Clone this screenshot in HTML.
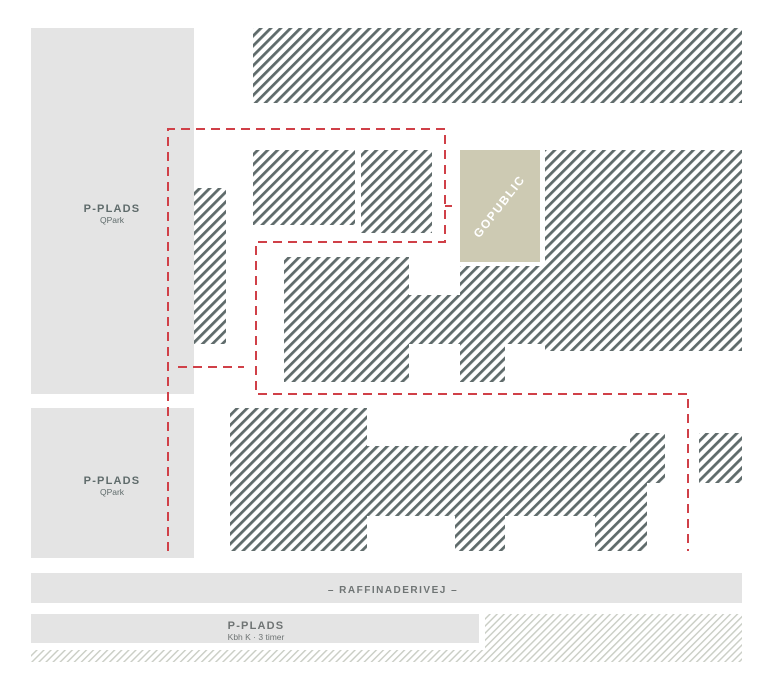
<!DOCTYPE html>
<html><head><meta charset="utf-8"><style>
html,body{margin:0;padding:0;background:#fff;}
svg{display:block;}
text{font-family:"Liberation Sans",sans-serif;font-weight:bold;}
</style></head><body>
<svg width="768" height="683" viewBox="0 0 768 683" xmlns="http://www.w3.org/2000/svg">
<defs>
<pattern id="h" patternUnits="userSpaceOnUse" width="7" height="7" patternTransform="rotate(45)">
<rect width="7" height="7" fill="#fff"/><rect x="0" y="0" width="2.8" height="7" fill="#5f6b6b"/>
</pattern>
<pattern id="l" patternUnits="userSpaceOnUse" width="5" height="5" patternTransform="rotate(45)">
<rect width="5" height="5" fill="#fff"/><rect x="0" y="0" width="1.4" height="5" fill="#c9cdc4"/>
</pattern>
</defs>
<g fill="#e4e4e4">
<rect x="31" y="28" width="163" height="366"/>
<rect x="31" y="408" width="163" height="150"/>
<rect x="31" y="573" width="711" height="30"/>
<rect x="31" y="614" width="448" height="29"/>
</g>
<g fill="url(#l)">
<rect x="485" y="614" width="257" height="48"/>
<rect x="31" y="650" width="454" height="12"/>
</g>
<g fill="url(#h)">
<rect x="253" y="28" width="489" height="75"/>
<rect x="253" y="150" width="102" height="75"/>
<rect x="361" y="150" width="71" height="83"/>
<rect x="194" y="188" width="32" height="156"/>
<rect x="545" y="150" width="197" height="201"/>
<rect x="284" y="257" width="125" height="125"/>
<rect x="409" y="295" width="136" height="49"/>
<rect x="460" y="266" width="85" height="62"/>
<rect x="460" y="328" width="45" height="54"/>
<rect x="230" y="408" width="137" height="143"/>
<rect x="367" y="446" width="298" height="37"/>
<rect x="367" y="483" width="280" height="33"/>
<rect x="595" y="516" width="52" height="35"/>
<rect x="455" y="516" width="50" height="35"/>
<rect x="630" y="433" width="35" height="13"/>
<rect x="699" y="433" width="43" height="50"/>
</g>
<rect x="460" y="150" width="80" height="112" fill="#cdcab3"/>
<text transform="translate(500,207) rotate(-52)" text-anchor="middle" font-size="12" fill="#fff" letter-spacing="1.5" dominant-baseline="middle">GOPUBLIC</text>
<g fill="none" stroke="#d04048" stroke-width="2" stroke-dasharray="9,6">
<path d="M168 551 V129 H445 V242 H256 V394 H688 V551"/>
<path d="M445 206 H452"/>
<path d="M178 367 H244"/>
</g>
<g fill="#5f6b6b" text-anchor="middle">
<text x="112" y="212" font-size="11" letter-spacing="1.2">P-PLADS</text>
<text x="112" y="223" font-size="8.5" style="font-weight:normal">QPark</text>
<text x="112" y="484" font-size="11" letter-spacing="1.2">P-PLADS</text>
<text x="112" y="495" font-size="8.5" style="font-weight:normal">QPark</text>
<text x="393" y="593" font-size="10" letter-spacing="1.5" fill="#6f7474">– RAFFINADERIVEJ –</text>
<text x="256" y="629" font-size="11" letter-spacing="1.2" fill="#6f7474">P-PLADS</text>
<text x="256" y="640" font-size="8.5" style="font-weight:normal" fill="#6f7474">Kbh K · 3 timer</text>
</g>
</svg>
</body></html>
